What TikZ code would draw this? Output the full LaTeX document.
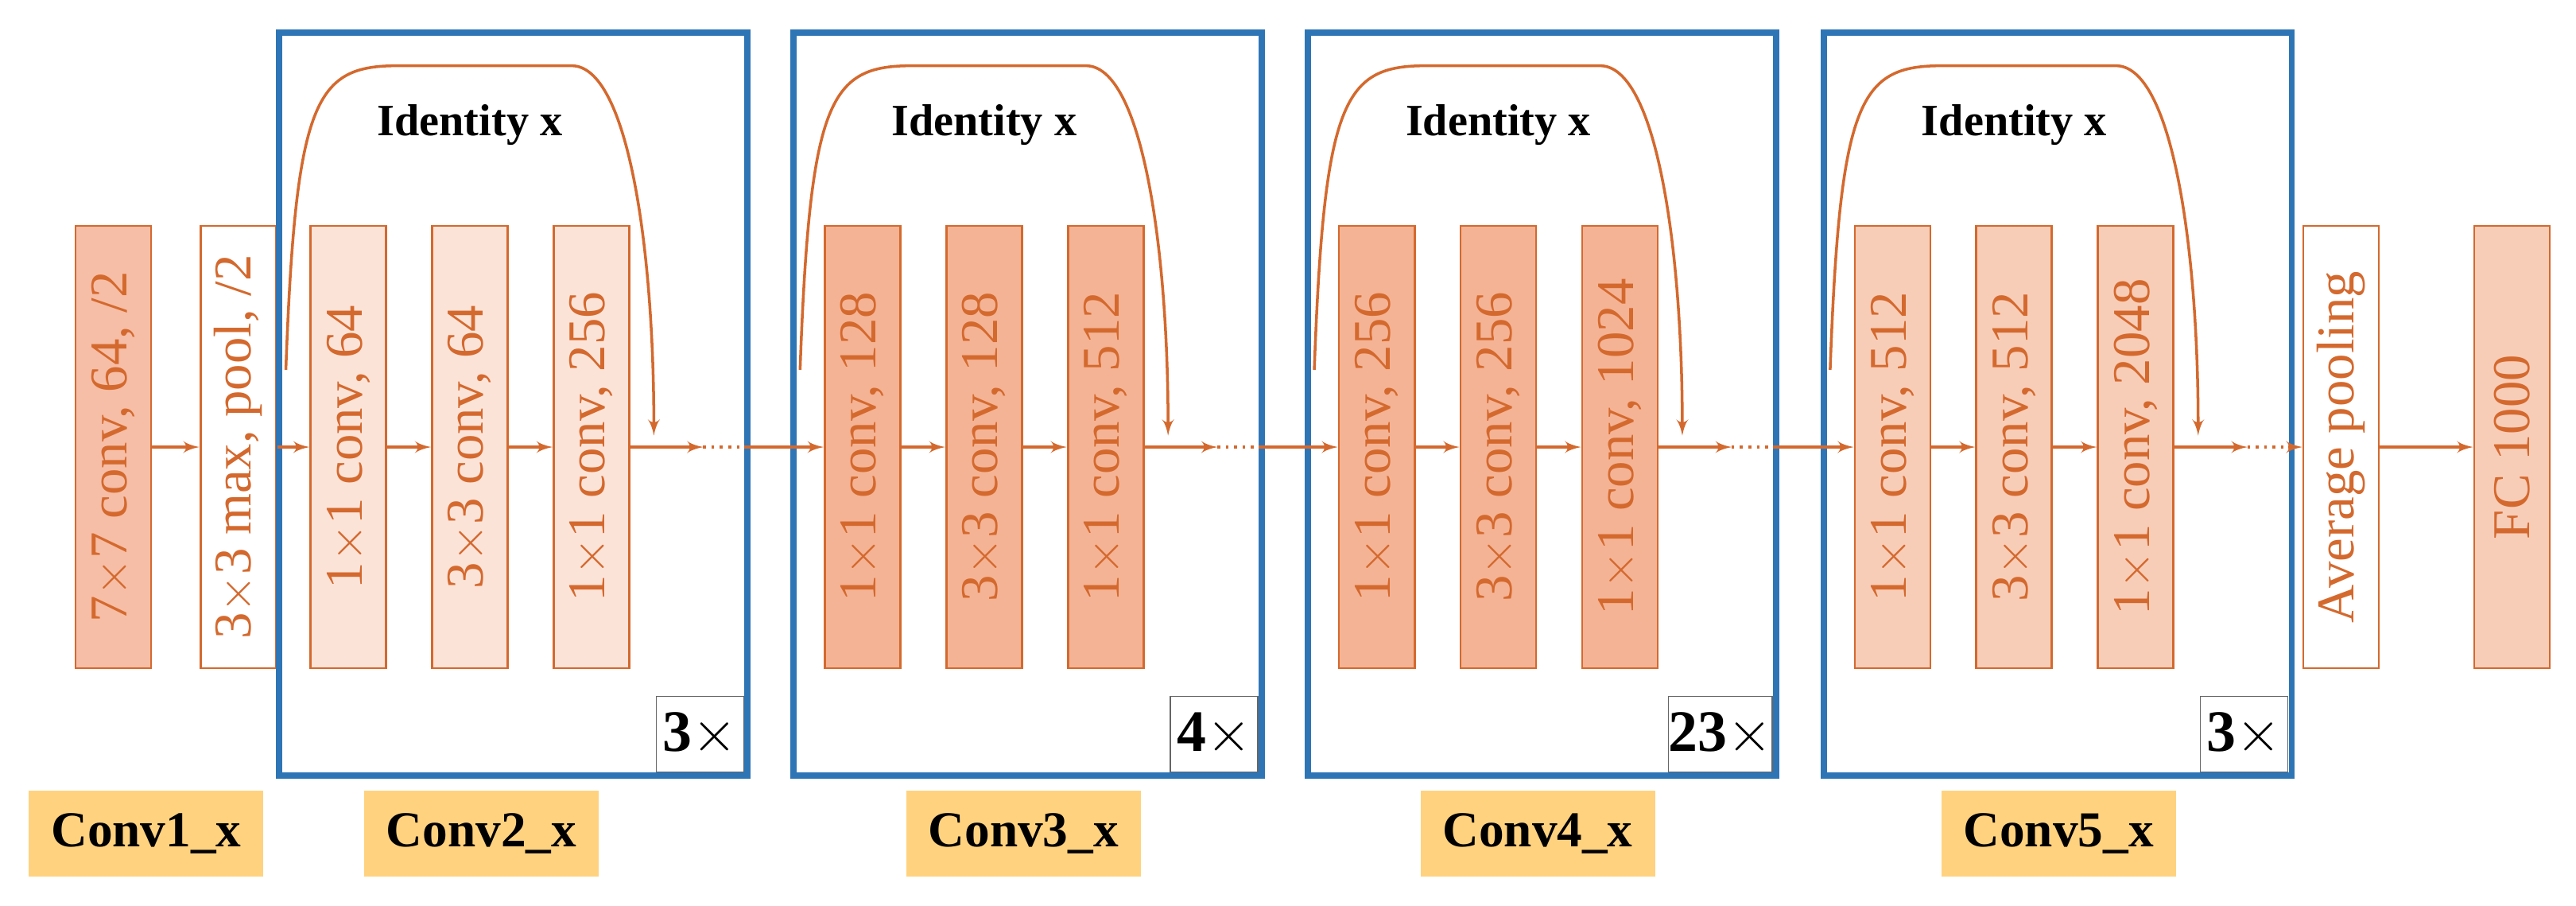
\documentclass[tikz,border=0pt]{standalone}
\usepackage{fontspec}
\setmainfont{Liberation Serif}
\usetikzlibrary{arrows}
\definecolor{edge}{HTML}{D4692E}
\definecolor{boxblue}{HTML}{2E75B6}
\definecolor{lbl}{HTML}{FFD27F}
\definecolor{fa}{HTML}{F6BEA6}
\definecolor{fb}{HTML}{FCE3D8}
\definecolor{fc}{HTML}{F4B394}
\definecolor{fd}{HTML}{F8CDB8}
\tikzstyle{layer} = [draw=edge, thick, rectangle, rotate=90, minimum width=5.56cm,
  minimum height=0.95cm, inner sep=0pt, text=edge, font=\fontsize{19}{22}\selectfont]
\tikzstyle{stage} = [draw=boxblue, line width=2.2pt]
\tikzstyle{times} = [draw=black!60, thin, fill=white, minimum width=1.1cm, minimum height=0.95cm,
  inner sep=0pt, font=\fontsize{21}{24}\selectfont]
\tikzstyle{tag} = [fill=lbl, minimum width=2.95cm, minimum height=1.08cm,
  font=\bfseries\fontsize{18}{22}\selectfont]
\tikzstyle{flow} = [->, line width=1pt, draw=edge]

\begin{document}
\begin{tikzpicture}[x=0.02066cm, y=-0.02066cm, >=latex']
\useasboundingbox (0,0) rectangle (1568,551);

% first two layers
\node [layer, fill=fa] (c1) at (69,272) {7$\times$7 conv, 64, /2};
\node [layer, fill=white] (pool) at (145,272) {3$\times$3 max, pool, /2};
\draw [flow] (c1) -- (pool);
\node [tag] (t1) at (89,507) {Conv1\_x};

% the four residual stages
\foreach \s/\L/\fil/\ta/\tb/\tc/\rep/\tx in
  {2/170/fb/64/64/256/3/123, 3/483/fc/128/128/512/4/140,
   4/796/fc/256/256/1024/23/140, 5/1110/fd/512/512/2048/3/143}{
  \draw [stage] (\L,20) rectangle (\L+285,472);
  \node [layer, fill=\fil] (s\s a) at (\L+42,272) {1$\times$1 conv, \ta};
  \node [layer, fill=\fil] (s\s b) at (\L+116,272) {3$\times$3 conv, \tb};
  \node [layer, fill=\fil] (s\s c) at (\L+190,272) {1$\times$1 conv, \tc};
  \coordinate (e\s) at (\L+258,272);
  \coordinate (o\s) at (\L+283,272);
  \draw [flow] (s\s a) -- (s\s b);
  \draw [flow] (s\s b) -- (s\s c);
  \draw [flow] (s\s c) -- (e\s);
  \draw [edge, line width=1pt, dotted] (e\s) -- (o\s);
  % identity shortcut
  \draw [->, line width=1pt, edge] (\L+4,225) .. controls (\L+10,60) and (\L+22,40) .. (\L+72,40)
    -- (\L+178,40) .. controls (\L+212,40) and (\L+228,150) .. (\L+228,265);
  \node [font=\bfseries\fontsize{16}{20}\selectfont] (id\s) at (\L+116,76) {Identity x};
  \node [times, anchor=south east] (r\s) at (\L+283,470) {\textbf{\rep}$\times$};
  \node [tag] (t\s) at (\L+\tx,507) {Conv\s\_x};
}

\draw [flow] (pool) -- (s2a);
\draw [flow] (o2) -- (s3a);
\draw [flow] (o3) -- (s4a);
\draw [flow] (o4) -- (s5a);

% head
\node [layer, fill=white] (avg) at (1425,272) {Average pooling};
\node [layer, fill=fd] (fc) at (1529,272) {FC 1000};
\draw [flow] (o5) -- (avg);
\draw [flow] (avg) -- (fc);
\end{tikzpicture}
\end{document}
